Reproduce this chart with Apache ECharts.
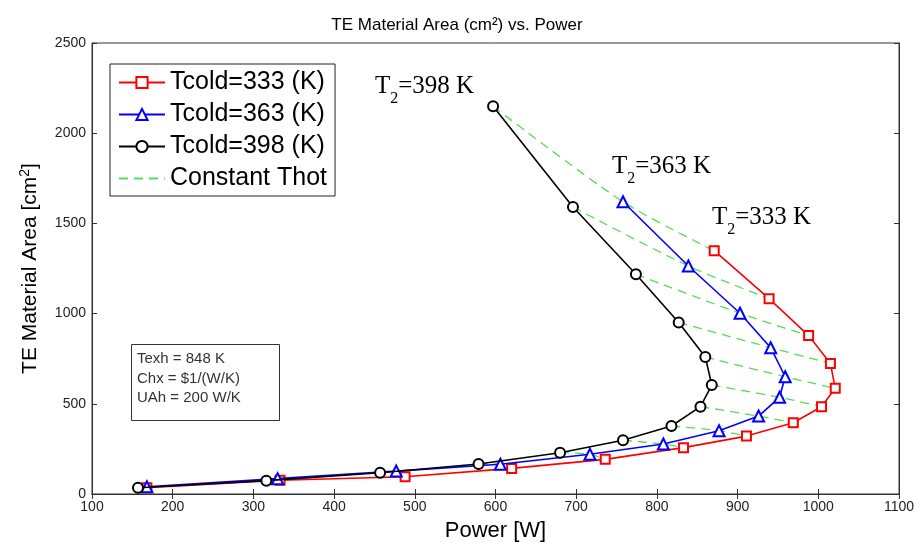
<!DOCTYPE html>
<html>
<head>
  <meta charset="UTF-8">
  <title>TE Material Area vs. Power</title>
  <style>
    html, body { margin: 0; padding: 0; background: #fff; }
    #chart { width: 914px; height: 542px; }
  </style>
  <script src="https://cdn.jsdelivr.net/npm/echarts@6/dist/echarts.min.js"></script>
</head>
<body>
  <div id="chart"></div>
  <script>
    // values, one point per Thot step (top to bottom)
    var power333 = [871, 939, 988, 1015, 1021, 1004, 969, 911, 833, 736, 620, 488, 333, 168];
    var area333  = [1349, 1083, 878, 724, 586, 484, 395, 321, 257, 192, 142, 96, 76, 35];
    var power363 = [758, 839, 903, 941, 959, 952, 926, 877, 808, 717, 606, 477, 330, 168];
    var area363  = [1620, 1264, 1002, 811, 650, 536, 432, 351, 277, 220, 165, 127, 85, 40];
    var power398 = [597, 696, 774, 827, 860, 868, 854, 818, 758, 680, 579, 457, 316, 157];
    var area398  = [2150, 1591, 1218, 951, 759, 604, 484, 377, 298, 229, 166, 118, 74, 35];
    var legendNames = ['Tcold=333 (K)', 'Tcold=363 (K)', 'Tcold=398 (K)', 'Constant Thot'];

    var font = 'Liberation Sans, Arial, sans-serif';
    var serif = 'Liberation Serif, Times New Roman, serif';

    function zip(xs, ys) {
      var res = [];
      for (var i = 0; i < xs.length; i++) res.push([xs[i], ys[i]]);
      return res;
    }

    // constant Thot: join point i of each Tcold curve, gaps between lines
    var thotData = [];
    for (var i = 0; i < power398.length; i++) {
      thotData.push([power398[i], area398[i]]);
      thotData.push([power363[i], area363[i]]);
      thotData.push([power333[i], area333[i]]);
      thotData.push([null, null]);
    }

    function t2(label, left, top) {
      return {
        type: 'text', left: left, top: top,
        style: {
          text: '{a|T}{b|2}{a|=' + label + '}',
          rich: {
            a: { fontFamily: serif, fontSize: 25, fill: '#000', lineHeight: 30, verticalAlign: 'bottom' },
            b: { fontFamily: serif, fontSize: 16, fill: '#000', lineHeight: 30, verticalAlign: 'bottom', padding: [0, 0, -8, 0] }
          }
        }
      };
    }

    var plain = function (v) { return String(v); };

    var myChart = echarts.init(document.getElementById('chart'));
    var option = {
      backgroundColor: '#fff',
      animation: false,
      title: {
        text: 'TE Material Area (cm²) vs. Power',
        left: 'center',
        top: 12,
        textStyle: { fontFamily: font, fontSize: 17, fontWeight: 'normal', color: '#000' }
      },
      legend: {
        data: [
          legendNames[0], legendNames[1], legendNames[2],
          { name: legendNames[3], itemStyle: { color: 'transparent', borderWidth: 0 } }
        ],
        orient: 'vertical',
        left: 110, top: 64,
        padding: [6, 8, 5, 8],
        itemWidth: 46, itemHeight: 14, itemGap: 7,
        borderColor: '#222', borderWidth: 1,
        backgroundColor: '#fff',
        textStyle: { fontFamily: font, fontSize: 25, color: '#000' }
      },
      grid: {
        left: 92, right: 15, top: 43, bottom: 48,
        outerBoundsMode: 'none', containLabel: false,
        show: true, borderColor: '#333', borderWidth: 1
      },
      xAxis: [{
        type: 'value', min: 100, max: 1100, interval: 100,
        name: 'Power [W]', nameLocation: 'middle', nameGap: 26,
        nameTextStyle: { fontFamily: font, fontSize: 22, color: '#000' },
        axisLine: { show: true, lineStyle: { color: '#333' } },
        axisTick: { inside: true, length: 5, lineStyle: { color: '#333' } },
        axisLabel: { fontFamily: font, fontSize: 14, color: '#222', margin: 6, formatter: plain },
        splitLine: { show: false }
      }, {
        type: 'value', position: 'top', min: 100, max: 1100, interval: 100,
        axisLine: { show: true, lineStyle: { color: '#333' } },
        axisTick: { inside: true, length: 5, lineStyle: { color: '#333' } },
        axisLabel: { show: false },
        splitLine: { show: false }
      }],
      yAxis: [{
        type: 'value', min: 0, max: 2500, interval: 500,
        name: 'TE Material Area [cm{sup|2}]', nameLocation: 'middle', nameGap: 50,
        nameTextStyle: {
          fontFamily: font, fontSize: 21, color: '#000',
          rich: { sup: { fontFamily: font, fontSize: 14, color: '#000', padding: [0, 0, 10, 0] } }
        },
        axisLine: { show: true, lineStyle: { color: '#333' } },
        axisTick: { inside: true, length: 5, lineStyle: { color: '#333' } },
        axisLabel: { fontFamily: font, fontSize: 14, color: '#222', margin: 6, formatter: plain },
        splitLine: { show: false }
      }, {
        type: 'value', position: 'right', min: 0, max: 2500, interval: 500,
        axisLine: { show: true, lineStyle: { color: '#333' } },
        axisTick: { inside: true, length: 5, lineStyle: { color: '#333' } },
        axisLabel: { show: false },
        splitLine: { show: false }
      }],
      series: [
        {
          name: legendNames[3], type: 'line', data: thotData,
          connectNulls: false, smooth: 0.3, symbol: 'none', z: 1,
          lineStyle: { color: '#55dd55', width: 1.3, type: [9, 6] },
          itemStyle: { color: '#55dd55' }
        },
        {
          name: legendNames[0], type: 'line', data: zip(power333, area333),
          symbol: 'emptyRect', symbolSize: 9, z: 3,
          lineStyle: { color: '#ff0000', width: 1.6 },
          itemStyle: { color: '#ff0000', borderWidth: 1.5 }
        },
        {
          name: legendNames[1], type: 'line', data: zip(power363, area363),
          symbol: 'emptyTriangle', symbolSize: 11, z: 4,
          lineStyle: { color: '#0000ff', width: 1.6 },
          itemStyle: { color: '#0000ff', borderWidth: 1.5 }
        },
        {
          name: legendNames[2], type: 'line', data: zip(power398, area398),
          symbol: 'emptyCircle', symbolSize: 10, z: 5,
          lineStyle: { color: '#000', width: 1.6 },
          itemStyle: { color: '#000', borderWidth: 1.5 }
        }
      ],
      graphic: [
        t2('398 K', 375, 74),
        t2('363 K', 612, 154),
        t2('333 K', 712, 205),
        {
          type: 'rect', left: 131, top: 344, z: 10,
          shape: { width: 148, height: 76 },
          style: { fill: '#fff', stroke: '#333', lineWidth: 1 }
        },
        {
          type: 'text', left: 137, top: 349, z: 11,
          style: {
            text: 'Texh = 848 K\nChx = $1/(W/K)\nUAh = 200 W/K',
            fontFamily: font, fontSize: 15, lineHeight: 19.7, fill: '#333'
          }
        }
      ]
    };
    myChart.setOption(option);
  </script>
</body>
</html>
